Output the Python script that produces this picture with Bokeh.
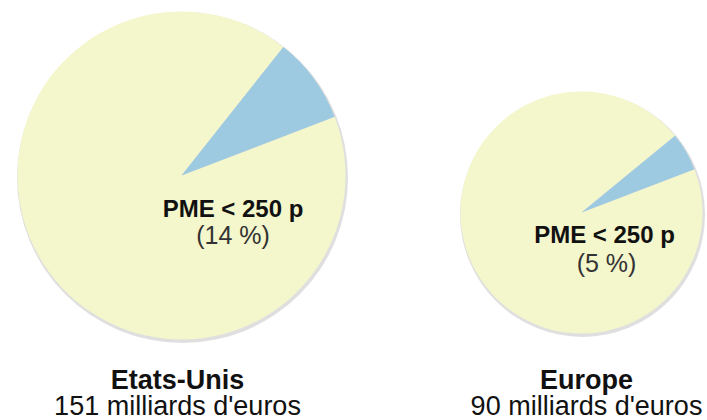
from math import radians
from bokeh.plotting import figure
from bokeh.models import Range1d, ColumnDataSource
from bokeh.core.properties import value
from bokeh.embed import file_html
from bokeh.resources import INLINE

# ---- data ----
regions = ["Etats-Unis", "Europe"]
totals = [151, 90]                 # milliards d'euros
pme_pct = [14, 5]                  # label values
pme_slice_share = [0.085, 0.051]   # blue slice share as drawn in the picture
pme_label = "PME < 250 p"

# ---- layout (pixel-like data coordinates, y up) ----
W, H = 707, 420
cx = [181, 581]
cy = [245, 208]
rad = [164, 121]
start_deg = 21.0

DY = 9  # baseline correction
lab_x = [232.5, 604]
lab_y = [203 + DY, 177 + DY]
pct_x = [232.5, 606]
pct_y = [177 + DY, 149 + DY]
bot_x = [177, 586]
bot_y1 = [32 + DY, 32 + DY]
bot_y2 = [6 + DY, 6 + DY]

YELLOW = "#F4F6CB"
BLUE = "#9DC9E1"
FONT = value("Liberation Sans")

p = figure(width=W, height=H, output_backend="svg", toolbar_location=None,
           x_range=Range1d(0, W), y_range=Range1d(0, H),
           x_axis_type=None, y_axis_type=None, min_border=0)
p.grid.visible = False
p.outline_line_color = None
p.background_fill_color = "white"
p.border_fill_color = "white"

# soft shadow
p.circle(x=[c + 1 for c in cx], y=[c - 2 for c in cy], radius=[r + 1.5 for r in rad],
         fill_color="#b8b8b8", fill_alpha=0.45, line_color=None)

b_start = [radians(start_deg)] * 2
b_end = [radians(start_deg + 360 * s) for s in pme_slice_share]
y_end = [s + radians(360) for s in b_start]

p.wedge(x=cx, y=cy, radius=rad, start_angle=b_end, end_angle=y_end,
        fill_color=YELLOW, line_color=None)
p.wedge(x=cx, y=cy, radius=rad, start_angle=b_start, end_angle=b_end,
        fill_color=BLUE, line_color=None)

src = ColumnDataSource(dict(
    lx=lab_x, ly=lab_y, lt=[pme_label] * 2,
    px=pct_x, py=pct_y, pt=[f"({v} %)" for v in pme_pct],
    bx=bot_x, by1=bot_y1, by2=bot_y2,
    r=regions, t=[f"{v} milliards d'euros" for v in totals],
))

p.text(x="lx", y="ly", text="lt", source=src, text_font=FONT, text_font_size="24px",
       text_font_style="bold", text_align="center", text_baseline="alphabetic",
       text_color="#111111")
p.text(x="px", y="py", text="pt", source=src, text_font=FONT, text_font_size="25px",
       text_align="center", text_baseline="alphabetic", text_color="#333333")
p.text(x="bx", y="by1", text="r", source=src, text_font=FONT, text_font_size="27px",
       text_font_style="bold", text_align="center", text_baseline="alphabetic",
       text_color="#111111")
p.text(x="bx", y="by2", text="t", source=src, text_font=FONT, text_font_size="27px",
       text_align="center", text_baseline="alphabetic", text_color="#111111")

open("out.html", "w").write(file_html(p, INLINE))
